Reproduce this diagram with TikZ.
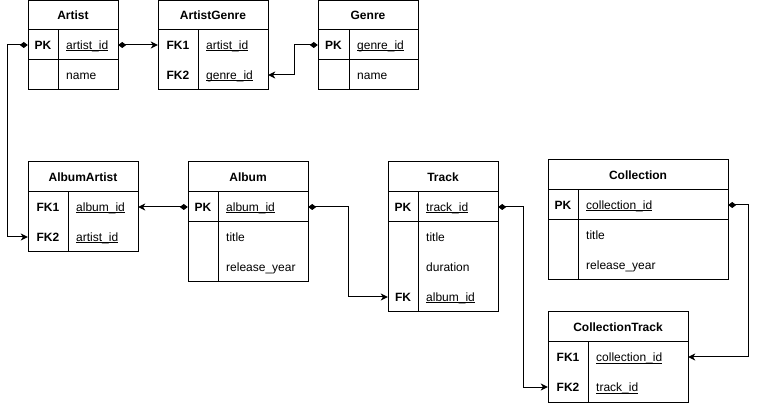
\documentclass[tikz,border=0pt]{standalone}
\usepackage{fontspec}
\setmainfont{Liberation Sans}
\usetikzlibrary{arrows.meta}
\newcommand{\ulx}[1]{\setbox0\hbox{#1}\rlap{\rule[-2.1pt]{\wd0}{0.9pt}}\box0}
\newcommand{\erbox}[8]{%
  \node[tblbox, minimum width={#3-#2}, minimum height={#7-#5}] (#1) at ({(#2+#3)/2},{(#5+#7)/2}) {};
  \node[hdrtxt] (#1-t) at ({(#2+#3)/2},{(#5+#6)/2}) {#8};
  \draw[tblline] (#2,#6) -- (#3,#6);
  \draw[tblline] (#4,#6) -- (#4,#7);
}
\newcommand{\errow}[7]{%
  \node[rowbox, minimum width={#3-#2}] (#1) at ({(#2+#3)/2},#5) {};
  \node[keytxt] (#1-k) at ({(#2+#4)/2},#5) {#6};
  \node[fldtxt] (#1-f) at ({#4+8},#5) {#7};
}
\begin{document}
\begin{tikzpicture}[x=1pt,y=-1pt,
  tblbox/.style={draw=black, line width=1pt, rectangle, inner sep=0pt},
  tblline/.style={draw=black, line width=1pt},
  rowbox/.style={rectangle, inner sep=0pt, minimum height=30},
  basetxt/.style={inner sep=0pt, text height=8.6pt, text depth=0pt, font=\fontsize{12}{14}\selectfont},
  hdrtxt/.style={basetxt, font=\fontsize{12}{14}\selectfont\bfseries},
  keytxt/.style={basetxt, font=\fontsize{12}{14}\selectfont\bfseries},
  fldtxt/.style={basetxt, anchor=west},
  fk/.style={draw=black, line width=1pt, {Diamond[length=8pt,width=6pt]}-{Stealth[length=7pt,width=7pt,inset=2pt]}}
]
\path[fill=white, use as bounding box] (0,0) rectangle (758,403);

% Artist
\erbox{artist}{28}{118}{58}{1}{30}{90}{Artist}
\errow{artist-pk}{28}{118}{58}{45}{PK}{\ulx{artist\_id}}
\errow{artist-name}{28}{118}{58}{75}{}{name}
\draw[tblline] (28,60) -- (118,60);

% ArtistGenre
\erbox{ag}{158}{268}{198}{1}{30}{90}{ArtistGenre}
\errow{ag-fk1}{158}{268}{198}{45}{FK1}{\ulx{artist\_id}}
\errow{ag-fk2}{158}{268}{198}{75}{FK2}{\ulx{genre\_id}}

% Genre
\erbox{genre}{318}{418}{349}{1}{30}{90}{Genre}
\errow{genre-pk}{318}{418}{349}{45}{PK}{\ulx{genre\_id}}
\errow{genre-name}{318}{418}{349}{75}{}{name}
\draw[tblline] (318,60) -- (418,60);

% AlbumArtist
\erbox{aa}{28}{138}{68}{162}{192}{252}{AlbumArtist}
\errow{aa-fk1}{28}{138}{68}{207}{FK1}{\ulx{album\_id}}
\errow{aa-fk2}{28}{138}{68}{237}{FK2}{\ulx{artist\_id}}

% Album
\erbox{album}{188}{308}{218}{162}{192}{282}{Album}
\errow{album-pk}{188}{308}{218}{207}{PK}{\ulx{album\_id}}
\errow{album-title}{188}{308}{218}{237}{}{title}
\errow{album-year}{188}{308}{218}{267}{}{release\_year}
\draw[tblline] (188,222) -- (308,222);

% Track
\erbox{track}{388}{498}{418}{162}{192}{312}{Track}
\errow{track-pk}{388}{498}{418}{207}{PK}{\ulx{track\_id}}
\errow{track-title}{388}{498}{418}{237}{}{title}
\errow{track-dur}{388}{498}{418}{267}{}{duration}
\errow{track-fk}{388}{498}{418}{297}{FK}{\ulx{album\_id}}
\draw[tblline] (388,222) -- (498,222);

% Collection
\erbox{col}{548}{728}{578}{160}{190}{280}{Collection}
\errow{col-pk}{548}{728}{578}{205}{PK}{\ulx{collection\_id}}
\errow{col-title}{548}{728}{578}{235}{}{title}
\errow{col-year}{548}{728}{578}{265}{}{release\_year}
\draw[tblline] (548,220) -- (728,220);

% CollectionTrack
\erbox{ct}{548}{688}{588}{312}{342}{402}{CollectionTrack}
\errow{ct-fk1}{548}{688}{588}{357}{FK1}{\ulx{collection\_id}}
\errow{ct-fk2}{548}{688}{588}{387}{FK2}{\ulx{track\_id}}

% connectors
\draw[fk] (artist-pk.east) -- (ag-fk1.west);
\draw[fk] (genre-pk.west) -- ++(-23,0) |- (ag-fk2.east);
\draw[fk] (artist-pk.west) -- ++(-20,0) |- (aa-fk2.west);
\draw[fk] (album-pk.west) -- (aa-fk1.east);
\draw[fk] (album-pk.east) -- ++(40,0) |- (track-fk.west);
\draw[fk] (track-pk.east) -- ++(25,0) |- (ct-fk2.west);
\draw[fk] (col-pk.east) -- ++(20,0) |- (ct-fk1.east);
\end{tikzpicture}
\end{document}
